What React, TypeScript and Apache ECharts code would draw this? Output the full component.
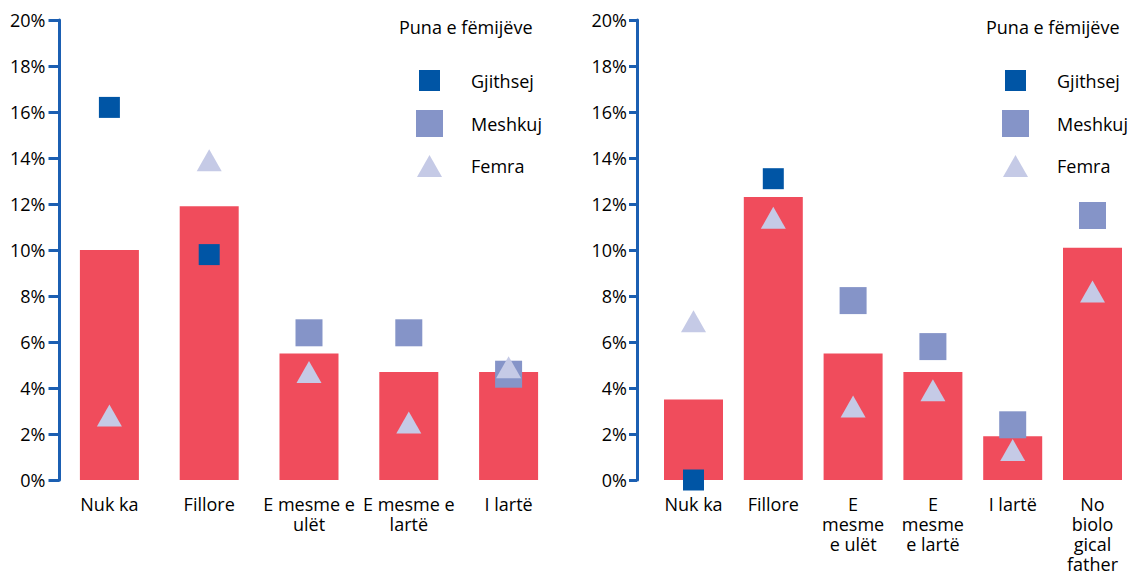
import React, { useEffect, useRef } from 'react';
import * as echarts from 'echarts';

const legendTitle = 'Puna e fëmijëve';
const seriesNames = ['Gjithsej', 'Meshkuj', 'Femra'];
const yMin = 0;
const yMax = 20;
const yStep = 2;

const leftCategories = ['Nuk ka', 'Fillore', 'E mesme e\nulët', 'E mesme e\nlartë', 'I lartë'];
const leftBar = [10.0, 11.9, 5.5, 4.7, 4.7];
const leftGjithsej = [16.2, 9.8, null, null, null];
const leftMeshkuj = [null, null, 6.4, 6.4, 4.6];
const leftFemra = [2.8, 13.9, 4.7, 2.5, 4.9];

const rightCategories = ['Nuk ka', 'Fillore', 'E\nmesme\ne ulët', 'E\nmesme\ne lartë', 'I lartë', 'No\nbiolo\ngical\nfather'];
const rightBar = [3.5, 12.3, 5.5, 4.7, 1.9, 10.1];
const rightGjithsej = [0.0, 13.1, null, null, null, null];
const rightMeshkuj = [null, null, 7.8, 5.8, 2.4, 11.5];
const rightFemra = [6.9, 11.4, 3.2, 3.9, 1.3, 8.2];

const FONT = "'Open Sans', sans-serif";
const AXIS_BLUE = '#1b5fb2';
const RED = '#f04c5c';
const DARK = '#0055a5';
const MID = '#8594c8';
const LIGHT = '#c5cae6';

function legendItem(name: string, left: number, top: number, w: number, h: number, icon: string, pad: number) {
  return {
    data: [{ name, icon }],
    left,
    top,
    orient: 'vertical',
    itemWidth: w,
    itemHeight: h,
    padding: 0,
    selectedMode: false,
    textStyle: { fontFamily: FONT, fontSize: 18, color: '#000', padding: [0, 0, 0, pad] },
  };
}

export default function App() {
  const ref = useRef<HTMLDivElement>(null);
  useEffect(() => {
    document.body.style.margin = '0';
    const chart = echarts.init(ref.current!, null, { renderer: 'svg' });

    const yAxisBase = (gridIndex: number, offset: number, tickLen: number, margin: number) => ({
      type: 'value',
      gridIndex,
      min: yMin,
      max: yMax,
      interval: yStep,
      offset,
      axisLine: { show: true, lineStyle: { color: AXIS_BLUE, width: 3 } },
      axisTick: { show: true, length: tickLen, lineStyle: { color: AXIS_BLUE, width: 3 } },
      splitLine: { show: false },
      axisLabel: { formatter: '{value}%', fontFamily: FONT, fontSize: 18, color: '#000', margin },
    });

    const xAxisBase = (gridIndex: number, data: string[]) => ({
      type: 'category',
      gridIndex,
      data,
      axisLine: { show: false },
      axisTick: { show: false },
      axisLabel: { interval: 0, fontFamily: FONT, fontSize: 18, color: '#000', lineHeight: 20, margin: 14 },
    });

    const scatterSeries = (idx: number, g: (number | null)[], m: (number | null)[], f: (number | null)[]) => [
      { name: seriesNames[0], type: 'scatter', xAxisIndex: idx, yAxisIndex: idx, data: g, symbol: 'rect', symbolSize: 21, itemStyle: { color: DARK, opacity: 1 }, z: 3 },
      { name: seriesNames[1], type: 'scatter', xAxisIndex: idx, yAxisIndex: idx, data: m, symbol: 'rect', symbolSize: 27, itemStyle: { color: MID, opacity: 1 }, z: 4 },
      { name: seriesNames[2], type: 'scatter', xAxisIndex: idx, yAxisIndex: idx, data: f, symbol: 'triangle', symbolSize: [25, 22], itemStyle: { color: LIGHT, opacity: 1 }, z: 5 },
    ];

    chart.setOption({
      animation: false,
      title: [
        { text: legendTitle, left: 399, top: 16, padding: 0, textStyle: { fontFamily: FONT, fontSize: 18, fontWeight: 'normal', color: '#000', lineHeight: 22 } },
        { text: legendTitle, left: 986, top: 16, padding: 0, textStyle: { fontFamily: FONT, fontSize: 18, fontWeight: 'normal', color: '#000', lineHeight: 22 } },
      ],
      legend: [
        legendItem(seriesNames[0], 419, 70, 21, 21, 'rect', 26),
        legendItem(seriesNames[1], 416, 110, 27, 27, 'rect', 23),
        legendItem(seriesNames[2], 417, 155, 25, 22, 'triangle', 24),
        legendItem(seriesNames[0], 1005, 70, 21, 21, 'rect', 26),
        legendItem(seriesNames[1], 1002, 110, 27, 27, 'rect', 23),
        legendItem(seriesNames[2], 1003, 155, 25, 22, 'triangle', 24),
      ],
      grid: [
        { left: 59.5, top: 20, width: 499, height: 460 },
        { left: 653.6, top: 20, width: 478.8, height: 460 },
      ],
      xAxis: [xAxisBase(0, leftCategories), xAxisBase(1, rightCategories)],
      yAxis: [yAxisBase(0, 0, 11, 14), yAxisBase(1, 16.6, 8, 10)],
      series: [
        { name: legendTitle, type: 'bar', xAxisIndex: 0, yAxisIndex: 0, data: leftBar, barWidth: 59, itemStyle: { color: RED }, z: 2 },
        ...scatterSeries(0, leftGjithsej, leftMeshkuj, leftFemra),
        { name: legendTitle, type: 'bar', xAxisIndex: 1, yAxisIndex: 1, data: rightBar, barWidth: 59, itemStyle: { color: RED }, z: 2 },
        ...scatterSeries(1, rightGjithsej, rightMeshkuj, rightFemra),
      ],
    });
    return () => chart.dispose();
  }, []);
  return <div ref={ref} style={{ width: 1138, height: 588 }} />;
}
